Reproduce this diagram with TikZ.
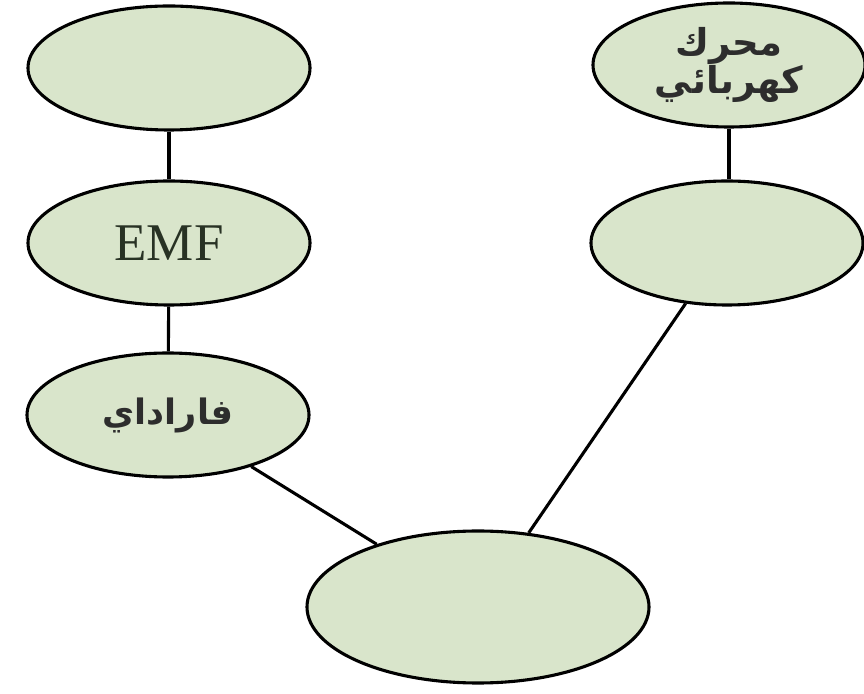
\documentclass[tikz,border=0pt]{standalone}
\usepackage{fontspec}
\setmainfont{Liberation Serif}
\newfontfamily\arabicfont[Script=Arabic]{DejaVu Sans}
\TeXXeTstate=1
\usetikzlibrary{shapes.geometric}
\definecolor{bubblefill}{RGB}{217,229,203}
\definecolor{textgray}{RGB}{45,45,45}
\definecolor{emfgray}{RGB}{40,50,36}

\begin{document}
\begin{tikzpicture}[
  x=1pt, y=1pt,
  bubble/.style={draw, ellipse, line width=3.1pt, fill=bubblefill,
    minimum width=282pt, minimum height=124pt, inner sep=0pt, align=center},
  link/.style={draw, line width=3.1pt}
]
\useasboundingbox (0,0) rectangle (864,693);

% Nodes
\node[bubble, text=emfgray] (top) at (169,625) {};
\node[bubble, text=emfgray] (emf) at (169,450)
  {\fontsize{53}{58}\selectfont EMF};
\node[bubble] (faraday) at (168,278)
  {\arabicfont\bfseries\fontsize{35}{40}\selectfont\color{textgray}\beginR فاراداي\endR};
\node[bubble, minimum width=342pt, minimum height=152pt] (base) at (478,86) {};
\node[bubble, minimum width=272pt] (motor) at (729,628)
  {\arabicfont\bfseries\fontsize{37}{48}\selectfont\color{textgray}\beginR محرك\endR\\
   \arabicfont\bfseries\fontsize{37}{48}\selectfont\color{textgray}\beginR كهربائي\endR};
\node[bubble, minimum width=272pt] (side) at (727,450) {};

% Lines
\draw[link] (top) -- (emf);
\draw[link] (emf) -- (faraday);
\draw[link] (faraday) -- (base);
\draw[link] (side) -- (base);
\draw[link] (motor.south) -- (motor.south |- side.north);

\end{tikzpicture}
\end{document}
